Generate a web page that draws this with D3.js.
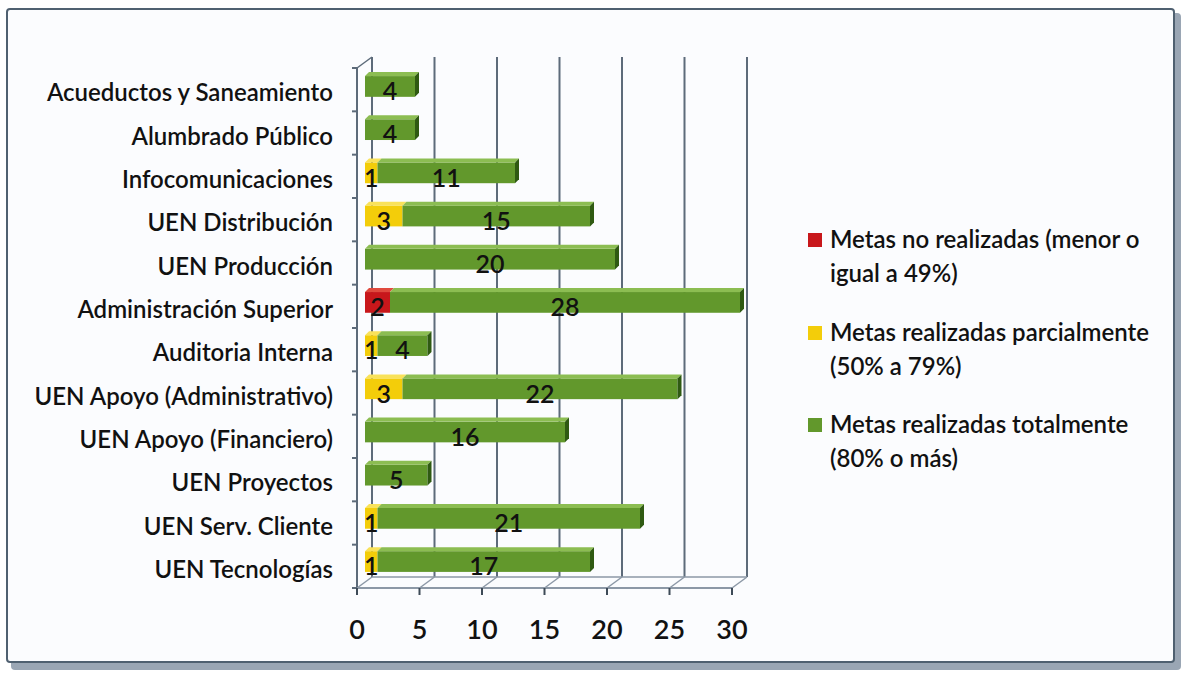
<!DOCTYPE html>
<html>
<head>
<meta charset="utf-8">
<script src="https://cdn.jsdelivr.net/npm/d3@7"></script>
<style>
  body { margin: 0; background: #ffffff; }
  text { font-family: Lato, "Open Sans", sans-serif; fill: #111; }
</style>
</head>
<body>
<div id="wrapper"></div>
<script>
// data
const categories = [
  "Acueductos y Saneamiento", "Alumbrado Público", "Infocomunicaciones",
  "UEN Distribución", "UEN Producción", "Administración Superior",
  "Auditoria Interna", "UEN Apoyo (Administrativo)", "UEN Apoyo (Financiero)",
  "UEN Proyectos", "UEN Serv. Cliente", "UEN Tecnologías"
]
const noRealizadas = [0, 0, 0, 0, 0, 2, 0, 0, 0, 0, 0, 0]
const parciales    = [0, 0, 1, 3, 0, 0, 1, 3, 0, 0, 1, 1]
const totales      = [4, 4, 11, 15, 20, 28, 4, 22, 16, 5, 21, 17]
const xTicks = [0, 5, 10, 15, 20, 25, 30]
const seriesNames = [
  ["Metas no realizadas (menor o", "igual a 49%)"],
  ["Metas realizadas parcialmente", "(50% a 79%)"],
  ["Metas realizadas totalmente", "(80% o más)"]
]

const keys = ["no", "parcial", "total"]
const colors = {
  no:      { front: "#c8171b", top: "#e04a3e", side: "#7a0d0f" },
  parcial: { front: "#f3cd0a", top: "#f9e25a", side: "#a88a00" },
  total:   { front: "#62982c", top: "#8cbd52", side: "#2f5a12" }
}

const rows = categories.map((c, i) => ({
  cat: c, no: noRealizadas[i], parcial: parciales[i], total: totales[i]
}))

// dimensions
const width = 1184
const height = 675
const plot = { left: 357, right: 732, top: 68, bottom: 588 }
const depth = { dx: 15, dy: -11 }       // back wall offset
const barShift = { dx: 8, dy: -4 }      // bars sit mid-depth
const barDepth = { dx: 4, dy: -4 }      // top face of each bar

const svg = d3.select("#wrapper")
  .append("svg")
    .attr("width", width)
    .attr("height", height)

// frame
svg.append("rect")
    .attr("x", 0).attr("y", 0).attr("width", width).attr("height", height)
    .attr("fill", "#ffffff")
svg.append("rect")
    .attr("x", 11).attr("y", 13).attr("width", 1170).attr("height", 657)
    .attr("rx", 4)
    .attr("fill", "#9aa6b4")
svg.append("rect")
    .attr("x", 7).attr("y", 9).attr("width", 1167).attr("height", 653)
    .attr("rx", 3)
    .attr("fill", "#fbfcfe")
    .attr("stroke", "#4f6070")
    .attr("stroke-width", 2)

// scales
const xScale = d3.scaleLinear()
  .domain([0, 30])
  .range([plot.left, plot.right])

const yScale = d3.scaleBand()
  .domain(categories)
  .range([plot.top, plot.bottom])
  .paddingInner(0.52)
  .paddingOuter(0.28)

const yBand = d3.scaleBand()
  .domain(categories)
  .range([plot.top, plot.bottom])

// back wall grid lines + floor
const grid = svg.append("g")
grid.selectAll("line.grid")
  .data(xTicks)
  .join("line")
    .attr("x1", d => xScale(d) + depth.dx)
    .attr("x2", d => xScale(d) + depth.dx)
    .attr("y1", plot.top + depth.dy)
    .attr("y2", plot.bottom + depth.dy)
    .attr("stroke", "#5d6b7a")
    .attr("stroke-width", 2)
grid.selectAll("line.floor")
  .data(xTicks)
  .join("line")
    .attr("x1", d => xScale(d))
    .attr("x2", d => xScale(d) + depth.dx)
    .attr("y1", plot.bottom)
    .attr("y2", plot.bottom + depth.dy)
    .attr("stroke", "#8c98a6")
    .attr("stroke-width", 1.5)
grid.append("line")
    .attr("x1", xScale(0) + depth.dx).attr("x2", xScale(30) + depth.dx)
    .attr("y1", plot.bottom + depth.dy).attr("y2", plot.bottom + depth.dy)
    .attr("stroke", "#8c98a6").attr("stroke-width", 1.5)
grid.append("line")
    .attr("x1", xScale(0)).attr("x2", xScale(0) + depth.dx)
    .attr("y1", plot.top).attr("y2", plot.top + depth.dy)
    .attr("stroke", "#5d6b7a").attr("stroke-width", 1.5)

// bars
const stacked = d3.stack().keys(keys)(rows)
const barsG = svg.append("g")

stacked.forEach(layer => {
  const key = layer.key
  const segs = layer.filter(d => d[1] - d[0] > 0)
  const g = barsG.append("g")
  // front face
  g.selectAll("rect")
    .data(segs)
    .join("rect")
      .attr("x", d => xScale(d[0]) + barShift.dx)
      .attr("y", d => yScale(d.data.cat) + barShift.dy)
      .attr("width", d => xScale(d[1]) - xScale(d[0]))
      .attr("height", yScale.bandwidth())
      .attr("fill", colors[key].front)
  // top face
  g.selectAll("path.top")
    .data(segs)
    .join("path")
      .attr("class", "top")
      .attr("d", d => {
        const x0 = xScale(d[0]) + barShift.dx
        const x1 = xScale(d[1]) + barShift.dx
        const y = yScale(d.data.cat) + barShift.dy
        return `M${x0},${y}L${x0 + barDepth.dx},${y + barDepth.dy}L${x1 + barDepth.dx},${y + barDepth.dy}L${x1},${y}Z`
      })
      .attr("fill", colors[key].top)
})

// right side face of each bar
barsG.selectAll("path.side")
  .data(rows)
  .join("path")
    .attr("class", "side")
    .attr("d", d => {
      const x = xScale(d.no + d.parcial + d.total) + barShift.dx
      const y = yScale(d.cat) + barShift.dy
      const h = yScale.bandwidth()
      return `M${x},${y}L${x + barDepth.dx},${y + barDepth.dy}L${x + barDepth.dx},${y + h + barDepth.dy}L${x},${y + h}Z`
    })
    .attr("fill", d => colors.total.side)

// value labels
stacked.forEach(layer => {
  barsG.append("g").selectAll("text")
    .data(layer.filter(d => d[1] - d[0] > 0))
    .join("text")
      .attr("x", d => xScale((d[0] + d[1]) / 2) + barShift.dx)
      .attr("y", d => yScale(d.data.cat) + barShift.dy + yScale.bandwidth() / 2)
      .attr("dy", "0.55em")
      .attr("text-anchor", "middle")
      .style("font-size", "25px")
      .style("font-weight", 600)
      .text(d => d[1] - d[0])
})

// front y axis line + ticks
const yAxis = svg.append("g")
yAxis.append("line")
    .attr("x1", plot.left).attr("x2", plot.left)
    .attr("y1", plot.top).attr("y2", plot.bottom)
    .attr("stroke", "#5d6b7a").attr("stroke-width", 2)
yAxis.selectAll("line.tick")
  .data(categories.concat(["end"]))
  .join("line")
    .attr("x1", plot.left - 5).attr("x2", plot.left)
    .attr("y1", (d, i) => plot.top + i * yBand.bandwidth())
    .attr("y2", (d, i) => plot.top + i * yBand.bandwidth())
    .attr("stroke", "#5d6b7a").attr("stroke-width", 2)
yAxis.selectAll("text")
  .data(categories)
  .join("text")
    .attr("x", 333)
    .attr("y", d => yBand(d) + yBand.bandwidth() / 2 + 3)
    .attr("dy", "0.36em")
    .attr("text-anchor", "end")
    .style("font-size", "24px")
    .style("font-weight", 600)
    .text(d => d)

// front x axis
const xAxis = svg.append("g")
xAxis.append("line")
    .attr("x1", plot.left).attr("x2", plot.right)
    .attr("y1", plot.bottom).attr("y2", plot.bottom)
    .attr("stroke", "#8c98a6").attr("stroke-width", 2)
xAxis.selectAll("line.tick")
  .data(xTicks)
  .join("line")
    .attr("x1", d => xScale(d)).attr("x2", d => xScale(d))
    .attr("y1", plot.bottom).attr("y2", plot.bottom + 7)
    .attr("stroke", "#3d4a57").attr("stroke-width", 2)
xAxis.selectAll("text")
  .data(xTicks)
  .join("text")
    .attr("x", d => xScale(d))
    .attr("y", 639)
    .attr("text-anchor", "middle")
    .style("font-size", "27px")
    .style("font-weight", 600)
    .text(d => d)

// legend
const legendTops = [248, 341, 433]
const legend = svg.append("g")
keys.forEach((k, i) => {
  legend.append("rect")
      .attr("x", 808).attr("y", legendTops[i] - 15)
      .attr("width", 14).attr("height", 14)
      .attr("fill", colors[k].front)
  legend.append("text")
      .attr("x", 830).attr("y", legendTops[i])
      .style("font-size", "24px")
      .style("font-weight", 600)
    .selectAll("tspan")
    .data(seriesNames[i])
    .join("tspan")
      .attr("x", 830)
      .attr("dy", (d, j) => j === 0 ? 0 : 34)
      .text(d => d)
})
</script>
</body>
</html>
